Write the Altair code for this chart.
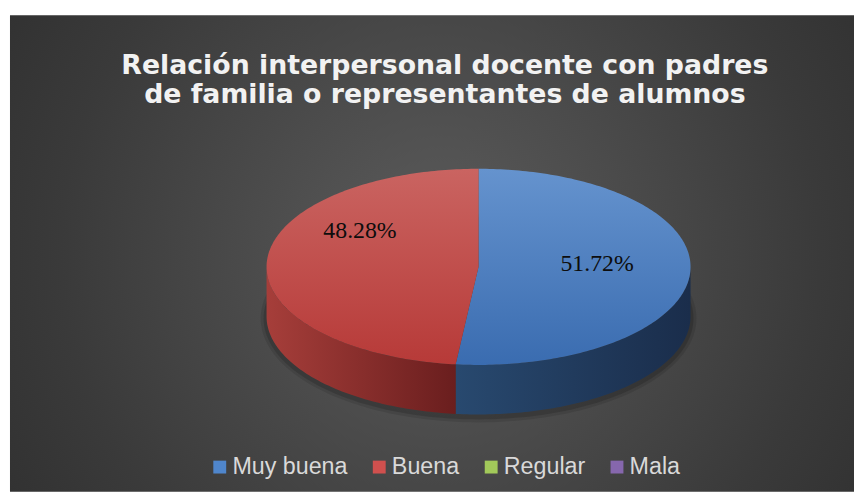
import math
import altair as alt

# ---- data ----
categories = ["Muy buena", "Buena", "Regular", "Mala"]
shares = [51.72, 48.28, 0.0, 0.0]
label_texts = ["51.72%", "48.28%", "", ""]
legend_colors = ["#4f86cc", "#d0504e", "#a2c95a", "#8667ad"]
title_lines = ["Relación interpersonal docente con padres",
               "de familia o representantes de alumnos"]

# ---- layout / style ----
W, H = 852, 481
CX, CY = 473, 254          # pie centre inside the view (px)
RX, RY, DEPTH = 214, 99, 50

top_stops = {"Muy buena": ("#6593ce", "#3a6cb0"), "Buena": ("#ca6461", "#b73a38"),
             "Regular": ("#a2c95a", "#86ad43"), "Mala": ("#8a6bb2", "#6d5192")}
side_stops = {"Muy buena": ("#28496f", "#1a2d4b"), "Buena": ("#a63e3a", "#6a1e1e"),
              "Regular": ("#6d8a3a", "#4d6428"), "Mala": ("#5e4a7d", "#41335a")}
label_shift = {"Muy buena": 6, "Buena": 33}


def pt(t, rx=RX, ry=RY, dy=0.0):
    r = math.radians(t)
    return [rx * math.sin(r), ry * math.cos(r) + dy]


def arc(t0, t1):
    n = max(2, int(abs(t1 - t0)) + 2)
    return [pt(t0 + (t1 - t0) * i / (n - 1)) for i in range(n)]


def feature(cat, ring):
    return {"type": "Feature", "properties": {"category": cat},
            "geometry": {"type": "Polygon", "coordinates": [ring]}}


def vgrad(c0, c1):
    return alt.LinearGradient(gradient="linear", x1=0, y1=0, x2=0, y2=1,
                              stops=[alt.GradientStop(color=c0, offset=0),
                                     alt.GradientStop(color=c1, offset=1)])


def hgrad(c0, c1):
    return alt.LinearGradient(gradient="linear", x1=0, y1=0, x2=1, y2=0,
                              stops=[alt.GradientStop(color=c0, offset=0),
                                     alt.GradientStop(color=c1, offset=1)])


total = sum(shares)
side_layers, top_layers, label_rows = [], [], []
start = 0.0
for cat, s, lab in zip(categories, shares, label_texts):
    if s <= 0:
        continue
    t0 = start
    t1 = start + 360.0 * s / total
    start = t1
    top_ring = [[0.0, 0.0]] + arc(t0, t1) + [[0.0, 0.0]]
    top_layers.append(
        alt.Chart(alt.Data(values=[feature(cat, top_ring)]))
        .mark_geoshape(fill=vgrad(*top_stops[cat]), stroke=None, strokeWidth=0)
    )
    a0, a1 = max(t0, 90.0), min(t1, 270.0)
    if a1 > a0:
        edge = arc(a0, a1)
        ring = edge + [[x, y - DEPTH] for x, y in reversed(edge)] + [edge[0]]
        side_layers.append(
            alt.Chart(alt.Data(values=[feature(cat, ring)]))
            .mark_geoshape(fill=hgrad(*side_stops[cat]), stroke=None, strokeWidth=0)
        )
    mid = math.radians((t0 + t1) / 2)
    label_rows.append({"category": cat, "label": lab,
                       "lon": 0.56 * RX * math.sin(mid),
                       "lat": 0.56 * RY * math.cos(mid) + label_shift.get(cat, 0)})

# soft shadow under the pie (decoration)
shadow_layers = []
for grow, op in [(6, 0.10), (3, 0.15)]:
    ring = [pt(360.0 * i / 180, RX + grow, RY + grow, -DEPTH - 2) for i in range(181)]
    shadow_layers.append(
        alt.Chart(alt.Data(values=[feature("shadow", ring)]))
        .mark_geoshape(fill="#000000", fillOpacity=op, stroke=None, strokeWidth=0)
    )

bg_grad = alt.RadialGradient(
    gradient="radial", x1=0.51, y1=0.5, r1=0, x2=0.51, y2=0.5, r2=0.75,
    stops=[alt.GradientStop(color="#5c5c5c", offset=0),
           alt.GradientStop(color="#3a3a3a", offset=0.6),
           alt.GradientStop(color="#282828", offset=1)])

background = alt.Chart(alt.Data(values=[{}])).mark_rect(fill=bg_grad).encode(
    x=alt.value(0), x2=alt.value(W), y=alt.value(0), y2=alt.value(H))

labels = alt.Chart(alt.Data(values=label_rows)).mark_text(
    font="Liberation Serif", fontSize=24, color="#0d0d0d", align="center", baseline="middle"
).encode(longitude="lon:Q", latitude="lat:Q", text="label:N")

title = alt.Chart(alt.Data(values=[{}])).mark_text(
    font="DejaVu Sans", fontWeight="bold", fontSize=27, color="#f2f2f2",
    align="center", baseline="alphabetic", lineBreak="\n", lineHeight=30
).encode(x=alt.value(439), y=alt.value(59), text=alt.value("\n".join(title_lines)))

legend_layer = alt.Chart(alt.Data(values=[{"category": c} for c in categories])).mark_square(
    opacity=0, size=0
).encode(
    x=alt.value(0), y=alt.value(0),
    color=alt.Color("category:N", sort=categories,
                    scale=alt.Scale(domain=categories, range=legend_colors),
                    legend=alt.Legend(orient="none", legendX=200, legendY=444,
                                      direction="horizontal", title=None,
                                      symbolType="square", symbolSize=169,
                                      symbolOpacity=1, symbolStrokeWidth=0,
                                      labelFontSize=23.5, labelFont="Liberation Sans",
                                      labelColor="#d9d9d9", columnPadding=20,
                                      labelOffset=1, padding=0, labelLimit=0))
)

chart = alt.layer(background, *shadow_layers, *side_layers, *top_layers, labels, title,
                  legend_layer).project(
    type="identity", scale=1, translate=[CX, CY], reflectY=True
).properties(
    width=W, height=H, background="white",
    padding={"left": 2, "top": 5, "right": 0, "bottom": 0},
    autosize=alt.AutoSizeParams(type="none")
).configure_view(stroke=None)

chart.save("out.html", embed_options={"renderer": "svg", "actions": False})
